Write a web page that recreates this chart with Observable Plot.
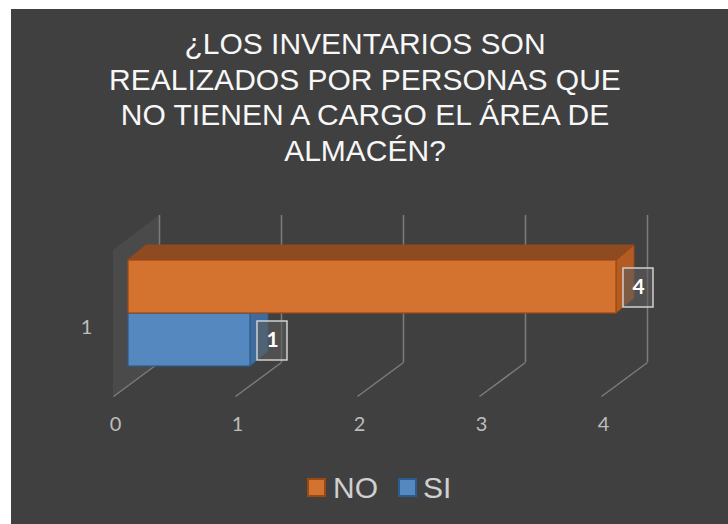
<!DOCTYPE html>
<html>
<head>
<meta charset="utf-8">
<script src="https://cdn.jsdelivr.net/npm/d3@7"></script>
<script src="https://cdn.jsdelivr.net/npm/@observablehq/plot@0.6"></script>
<style>
  html, body { margin: 0; padding: 0; background: #ffffff; }
  #chart {
    position: absolute; left: 11px; top: 9px; width: 717px; height: 515px;
    background: #404040; overflow: hidden;
  }
  #title {
    position: absolute; left: 0; top: 17px; width: 708px; text-align: center;
    font-family: "Liberation Sans", Arial, sans-serif; font-size: 30px; line-height: 35.5px;
    color: #f7f7f7;
  }
  #plot { position: absolute; left: 0; top: 191px; }
  #legend {
    position: absolute; left: 296px; top: 463.5px; height: 30px;
    display: flex; align-items: center;
    font-family: "Liberation Sans", Arial, sans-serif; font-size: 30px; line-height: 30px;
    color: #d0d0d0;
  }
  .sw { box-sizing: border-box; width: 19px; height: 19px; border: 2px solid; }
</style>
</head>
<body>
<div id="chart">
  <div id="title">¿LOS INVENTARIOS SON<br>REALIZADOS POR PERSONAS QUE<br>NO TIENEN A CARGO EL ÁREA DE<br>ALMACÉN?</div>
  <div id="plot"></div>
  <div id="legend"></div>
</div>
<script>
// ---- data ----
const categories = ["NO", "SI"];
const values = [4, 1];
const xTicks = [0, 1, 2, 3, 4];
const rowLabels = ["1"];

// ---- styles ----
const palette = {
  NO: { front: "#d4722f", top: "#8e4b22", side: "#b25b22", edge: "#9a4914" },
  SI: { front: "#5588bf", top: "#3d6590", side: "#3f6c9c", edge: "#2b5c8c" }
};

// ---- layout (pixels) ----
const W = 717, H = 250;
const xDom = [0, 4], xRan = [117, 605];
const yDom = [0, 2], yRan = [60, 166];
const kx = (xRan[1] - xRan[0]) / (xDom[1] - xDom[0]);
const ky = (yRan[1] - yRan[0]) / (yDom[1] - yDom[0]);
const px = p => p / kx;
const invY = p => yDom[0] + (p - yRan[0]) / ky;
const BDX = px(18), BDY = 15 / ky;
const BACK = px(31), FRONT = px(-15);
const FLOOR_BACK = invY(162), FLOOR_FRONT = invY(196);
const WALL_TOP_BACK = invY(15), WALL_TOP_FRONT = invY(50);

const bars = categories.map((c, i) => ({ cat: c, value: values[i], row: i }));

const marks = [];
marks.push(Plot.areaY(
  [{ x: xTicks[0] + FRONT, y1: FLOOR_FRONT, y2: WALL_TOP_FRONT },
   { x: xTicks[0] + BACK, y1: FLOOR_BACK, y2: WALL_TOP_BACK }],
  { x: "x", y1: "y1", y2: "y2", fill: "#4b4a4a" }
));
marks.push(Plot.ruleX(xTicks, { x: d => d, dx: 31, stroke: "#7c7c7c", strokeWidth: 1.5 }));
marks.push(Plot.link(xTicks, {
  x1: d => d + BACK, y1: FLOOR_BACK, x2: d => d + FRONT, y2: FLOOR_FRONT,
  stroke: "#7c7c7c", strokeWidth: 1.5
}));

for (const b of [...bars].reverse()) {
  const c = palette[b.cat];
  marks.push(Plot.areaY(
    [{ x: b.value, y1: b.row + 1, y2: b.row },
     { x: b.value + BDX, y1: b.row + 1 - BDY, y2: b.row - BDY }],
    { x: "x", y1: "y1", y2: "y2", fill: c.side, stroke: c.edge, strokeWidth: 1 }
  ));
  marks.push(Plot.areaX(
    [{ y: b.row, x1: 0, x2: b.value },
     { y: b.row - BDY, x1: BDX, x2: b.value + BDX }],
    { y: "y", x1: "x1", x2: "x2", fill: c.top, stroke: c.edge, strokeWidth: 1 }
  ));
  marks.push(Plot.rect([b], {
    x1: 0, x2: "value", y1: "row", y2: d => d.row + 1,
    fill: c.front, stroke: c.edge, strokeWidth: 1.2
  }));
}

marks.push(Plot.rect(bars, {
  x1: "value", x2: "value", y1: "row", y2: d => d.row + 1,
  insetLeft: 7, insetRight: -37, insetTop: 8, insetBottom: 6,
  fill: "#5c5c5c", fillOpacity: 0.6, stroke: "#d0d0d0", strokeWidth: 1.5,
  ariaLabel: "label-box"
}));
marks.push(Plot.text(bars, {
  x: "value", y: d => d.row + 0.5, dx: 22, text: d => String(d.value),
  fill: "#ffffff", fontWeight: "bold", fontSize: 21, fontFamily: "Lato, sans-serif"
}));

marks.push(Plot.text(xTicks, {
  x: d => d, frameAnchor: "bottom", dy: 68, dx: -13, text: d => String(d),
  fill: "#bdbdbd", fontSize: 20, fontFamily: "Lato, sans-serif"
}));
marks.push(Plot.text(rowLabels, {
  y: () => categories.length / 2, frameAnchor: "left", dy: 14, text: d => d,
  textAnchor: "middle", fill: "#bdbdbd", fontSize: 20, fontFamily: "Lato, sans-serif"
}));

const chart = Plot.plot({
  width: W, height: H,
  marginTop: 15, marginBottom: 88, marginLeft: 75, marginRight: 0,
  x: { domain: xDom, range: xRan, axis: null },
  y: { domain: yDom, range: yRan, axis: null },
  style: { background: "#404040", color: "#bdbdbd", overflow: "visible" },
  marks
});
const boxG = chart.querySelector('g[aria-label="label-box"]');
if (boxG) boxG.style.filter = "drop-shadow(5px 6px 5px rgba(0,0,0,0.55))";
document.getElementById("plot").appendChild(chart);

const legend = document.getElementById("legend");
categories.forEach((c, i) => {
  const sw = document.createElement("span");
  sw.className = "sw";
  sw.style.background = palette[c].front;
  sw.style.borderColor = palette[c].edge;
  sw.style.marginRight = i === 0 ? "7px" : "6px";
  const t = document.createElement("span");
  t.textContent = c;
  t.style.marginRight = i === 0 ? "20px" : "0";
  legend.appendChild(sw);
  legend.appendChild(t);
});
</script>
</body>
</html>
